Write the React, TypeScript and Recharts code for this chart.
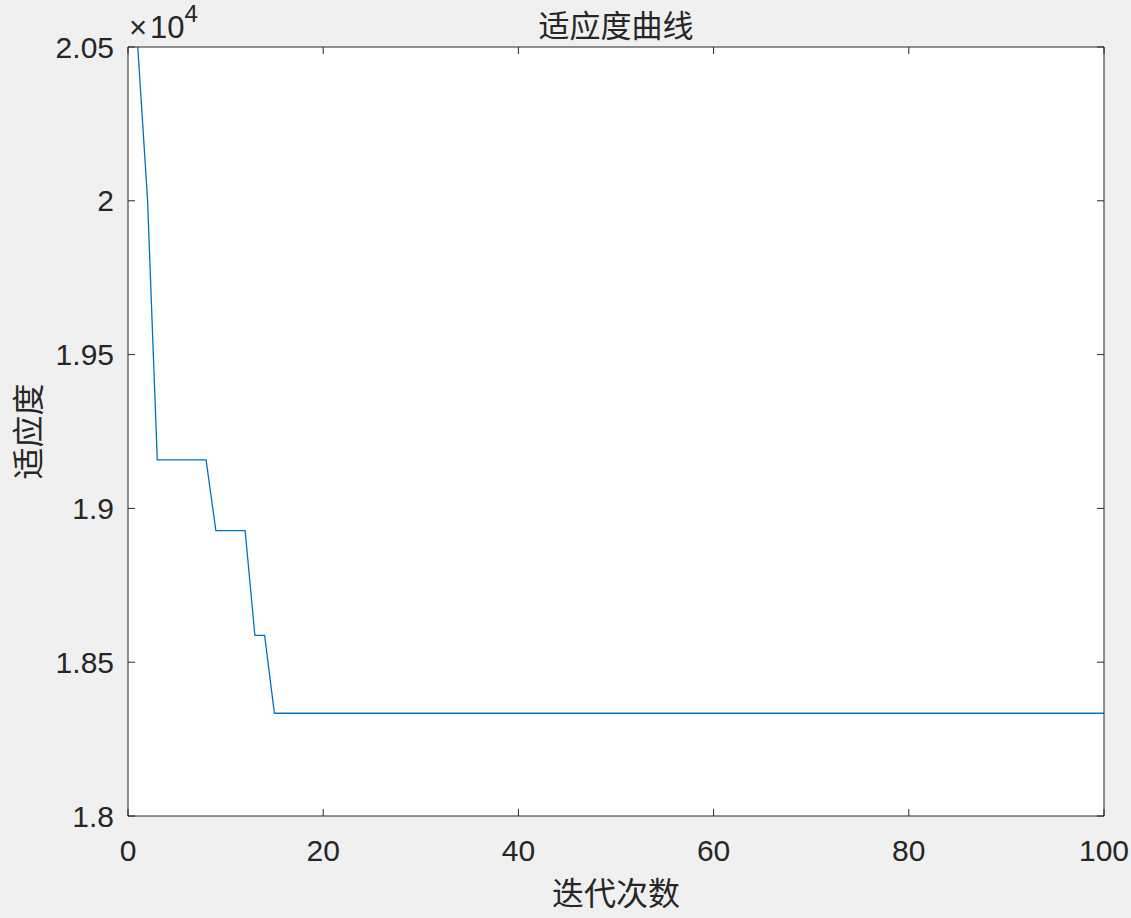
import React from 'react';
import { LineChart, Line, XAxis, YAxis, CartesianGrid, Label } from 'recharts';

const iterations = [
  1, 2, 3, 4, 5, 6, 7, 8, 9, 10,
  11, 12, 13, 14, 15, 16, 17, 18, 19, 20,
  21, 22, 23, 24, 25, 26, 27, 28, 29, 30,
  31, 32, 33, 34, 35, 36, 37, 38, 39, 40,
  41, 42, 43, 44, 45, 46, 47, 48, 49, 50,
  51, 52, 53, 54, 55, 56, 57, 58, 59, 60,
  61, 62, 63, 64, 65, 66, 67, 68, 69, 70,
  71, 72, 73, 74, 75, 76, 77, 78, 79, 80,
  81, 82, 83, 84, 85, 86, 87, 88, 89, 90,
  91, 92, 93, 94, 95, 96, 97, 98, 99, 100,
];

const fitness = [
  20500, 20005, 19158, 19158, 19158, 19158, 19158, 19158, 18928, 18928,
  18928, 18928, 18587, 18587, 18334, 18334, 18334, 18334, 18334, 18334,
  18334, 18334, 18334, 18334, 18334, 18334, 18334, 18334, 18334, 18334,
  18334, 18334, 18334, 18334, 18334, 18334, 18334, 18334, 18334, 18334,
  18334, 18334, 18334, 18334, 18334, 18334, 18334, 18334, 18334, 18334,
  18334, 18334, 18334, 18334, 18334, 18334, 18334, 18334, 18334, 18334,
  18334, 18334, 18334, 18334, 18334, 18334, 18334, 18334, 18334, 18334,
  18334, 18334, 18334, 18334, 18334, 18334, 18334, 18334, 18334, 18334,
  18334, 18334, 18334, 18334, 18334, 18334, 18334, 18334, 18334, 18334,
  18334, 18334, 18334, 18334, 18334, 18334, 18334, 18334, 18334, 18334,
];

const xTicks = [0, 20, 40, 60, 80, 100];
const yTicks = [18000, 18500, 19000, 19500, 20000, 20500];
const titleText = '适应度曲线';
const xLabelText = '迭代次数';
const yLabelText = '适应度';
const exponentTimes = '×';
const exponentBase = '10';
const exponentPower = '4';

const data = iterations.map((x, i) => ({ x, y: fitness[i] }));

const AXIS = '#262626';
const NUM_FONT = '"Liberation Sans", Arial, Helvetica, sans-serif';
const CJK_FONT = '"Noto Sans CJK SC", "Noto Sans", sans-serif';
const TICK_LEN = 7;
const X_MARGIN = 24;
const Y_MARGIN = 14;
const EDGE_MARGIN = 5;
const NUM_SIZE = 30;
const CJK_SIZE = 32;
const TITLE_SIZE = 31;

const fmtY = (v: number) => String(Math.round(v / 10) / 1000);

const BottomTick = (props: any) => {
  const { x, y, payload } = props;
  const axisY = y - X_MARGIN;
  return (
    <g>
      <line x1={x} y1={axisY} x2={x} y2={axisY - TICK_LEN} stroke={AXIS} strokeWidth={1} />
      <text
        x={x}
        y={y}
        dy="0.71em"
        textAnchor="middle"
        fill={AXIS}
        style={{ fontSize: NUM_SIZE, fontFamily: NUM_FONT }}
      >
        {payload.value}
      </text>
    </g>
  );
};

const TopTick = (props: any) => {
  const { x, y } = props;
  const axisY = y + EDGE_MARGIN;
  return <line x1={x} y1={axisY} x2={x} y2={axisY + TICK_LEN} stroke={AXIS} strokeWidth={1} />;
};

const LeftTick = (props: any) => {
  const { x, y, payload } = props;
  const axisX = x + Y_MARGIN;
  return (
    <g>
      <line x1={axisX} y1={y} x2={axisX + TICK_LEN} y2={y} stroke={AXIS} strokeWidth={1} />
      <text
        x={x}
        y={y}
        dy="0.355em"
        textAnchor="end"
        fill={AXIS}
        style={{ fontSize: NUM_SIZE, fontFamily: NUM_FONT }}
      >
        {fmtY(payload.value)}
      </text>
    </g>
  );
};

const RightTick = (props: any) => {
  const { x, y } = props;
  const axisX = x - EDGE_MARGIN;
  return <line x1={axisX} y1={y} x2={axisX - TICK_LEN} y2={y} stroke={AXIS} strokeWidth={1} />;
};

const ExponentLabel = (props: any) => {
  const vb = props.viewBox || { x: 128, y: 0, height: 47 };
  const top = vb.y + (vb.height || 0);
  return (
    <text
      x={vb.x + 1}
      y={top - 9}
      fill={AXIS}
      textAnchor="start"
      style={{ fontSize: 31, fontFamily: NUM_FONT }}
    >
      {exponentTimes}
      <tspan dx={3}>{exponentBase}</tspan>
      <tspan dy={-16} style={{ fontSize: 24 }}>
        {exponentPower}
      </tspan>
    </text>
  );
};

const TitleLabel = (props: any) => {
  const vb = props.viewBox || { x: 128, y: 0, width: 975, height: 47 };
  const top = vb.y + (vb.height || 0);
  return (
    <text
      x={vb.x + vb.width / 2}
      y={top - 10.5}
      fill={AXIS}
      textAnchor="middle"
      style={{ fontSize: TITLE_SIZE, fontFamily: CJK_FONT }}
    >
      {titleText}
    </text>
  );
};

export default function App() {
  return (
    <div
      style={{
        position: 'absolute',
        left: 0,
        top: 0,
        width: 1131,
        height: 918,
        background: '#f0f0f0',
      }}
    >
      <LineChart
        width={1131}
        height={918}
        data={data}
        margin={{ top: 0, right: 7, bottom: 42, left: 0 }}
      >
        <CartesianGrid
          xAxisId="b"
          yAxisId="l"
          horizontal={false}
          vertical={false}
          fill="#ffffff"
        />
        <XAxis
          xAxisId="b"
          dataKey="x"
          type="number"
          orientation="bottom"
          domain={[0, 100]}
          ticks={xTicks}
          interval={0}
          height={60}
          stroke={AXIS}
          tickLine={false}
          tickSize={0}
          tickMargin={X_MARGIN}
          tick={<BottomTick />}
          allowDataOverflow
        >
          <Label
            value={xLabelText}
            position="bottom"
            offset={6}
            fill={AXIS}
            style={{ fontSize: CJK_SIZE, fontFamily: CJK_FONT }}
          />
        </XAxis>
        <XAxis
          xAxisId="t"
          dataKey="x"
          type="number"
          orientation="top"
          domain={[0, 100]}
          ticks={xTicks}
          interval={0}
          height={47}
          stroke={AXIS}
          tickLine={false}
          tickSize={0}
          tickMargin={EDGE_MARGIN}
          tick={<TopTick />}
          allowDataOverflow
        >
          <Label content={TitleLabel} />
          <Label content={ExponentLabel} />
        </XAxis>
        <YAxis
          yAxisId="l"
          type="number"
          orientation="left"
          domain={[18000, 20500]}
          ticks={yTicks}
          interval={0}
          width={128}
          stroke={AXIS}
          tickLine={false}
          tickSize={0}
          tickMargin={Y_MARGIN}
          tick={<LeftTick />}
          allowDataOverflow
        >
          <Label
            value={yLabelText}
            angle={-90}
            position="insideLeft"
            offset={29}
            fill={AXIS}
            style={{ textAnchor: 'middle', fontSize: CJK_SIZE, fontFamily: CJK_FONT }}
          />
        </YAxis>
        <YAxis
          yAxisId="r"
          type="number"
          orientation="right"
          domain={[18000, 20500]}
          ticks={yTicks}
          interval={0}
          width={20}
          stroke={AXIS}
          tickLine={false}
          tickSize={0}
          tickMargin={EDGE_MARGIN}
          tick={<RightTick />}
          allowDataOverflow
        />
        <Line
          xAxisId="b"
          yAxisId="l"
          type="linear"
          dataKey="y"
          stroke="#0072BD"
          strokeWidth={1.3}
          dot={false}
          activeDot={false}
          isAnimationActive={false}
        />
      </LineChart>
    </div>
  );
}
